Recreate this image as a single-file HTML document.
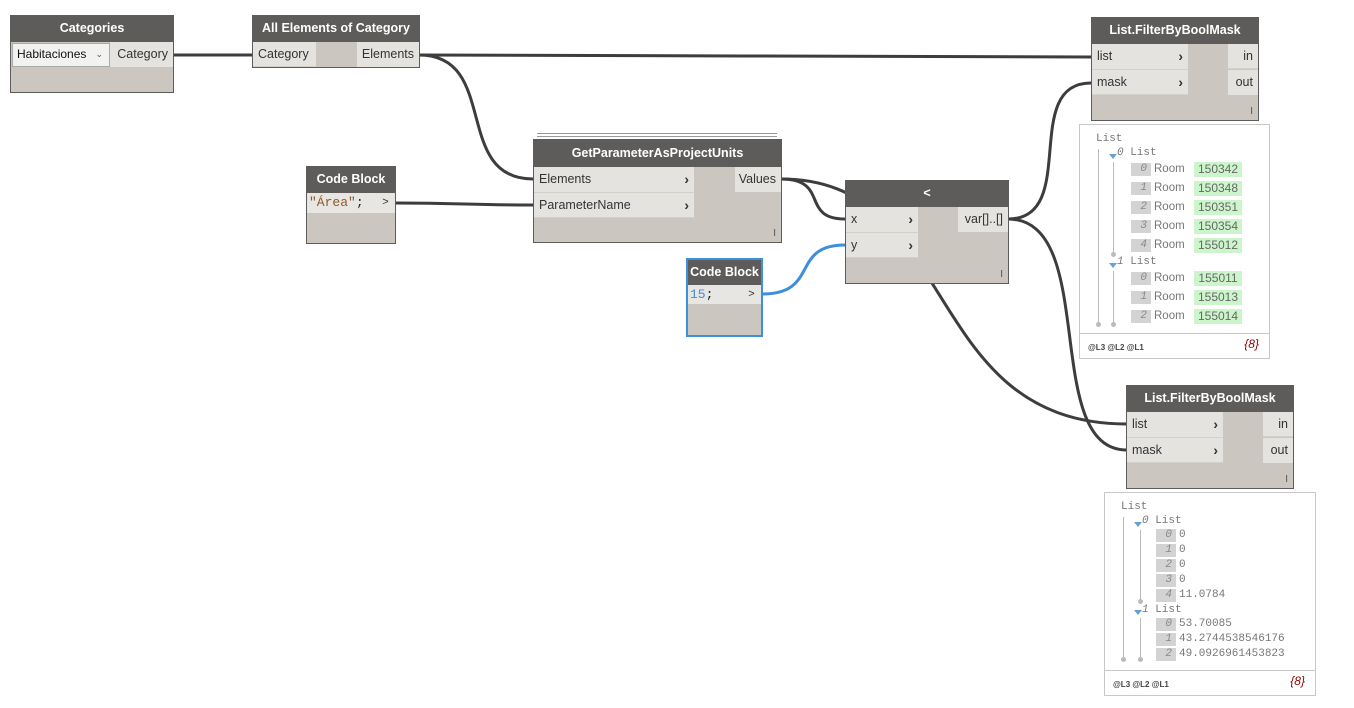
<!DOCTYPE html>
<html><head><meta charset="utf-8"><style>
body{margin:0;width:1354px;height:708px;background:#fff;position:relative;overflow:hidden;font-family:"Liberation Sans",sans-serif;}
.n{position:absolute;background:#cbc6bf;border:1px solid #5e5c5a;box-sizing:border-box;}
.h{position:absolute;left:0;right:0;top:0;height:26px;background:#5e5c5a;color:#fff;font-weight:bold;font-size:12.5px;text-align:center;line-height:25px;}
.p{position:absolute;background:#e5e3df;color:#333;font-size:12.5px;line-height:25px;padding-left:5px;box-sizing:border-box;border-bottom:1px solid #d4d0ca;}
.p b{position:absolute;right:5px;top:0;font-weight:bold;font-size:14px;}
.o{position:absolute;background:#e5e3df;color:#333;font-size:12.5px;line-height:25px;text-align:right;padding-right:5px;box-sizing:border-box;}
.c{position:absolute;font-size:10px;color:#555;}
.w{position:absolute;border:1px solid #c8c8c8;background:#fff;box-sizing:border-box;font-family:"Liberation Mono",monospace;font-size:11px;color:#777;}
.t{position:absolute;white-space:nowrap;line-height:13px;}
.r{font-family:"Liberation Sans",sans-serif;font-size:11.5px;}
.i{position:absolute;background:#d3d3d3;color:#888;font-style:italic;text-align:right;padding-right:4px;box-sizing:border-box;width:20px;height:13px;line-height:13px;}
.g{position:absolute;background:#ccf5cc;color:#666;font-family:"Liberation Sans",sans-serif;font-size:12px;width:48px;height:15px;line-height:15px;text-align:center;}
.vl{position:absolute;width:1px;background:#bbb;}
.dot{position:absolute;width:5px;height:5px;border-radius:50%;background:#bbb;}
.tri{position:absolute;width:0;height:0;border-left:4px solid transparent;border-right:4px solid transparent;border-top:5px solid #6a9fd4;}
.ft{position:absolute;left:8px;font-size:8px;font-weight:bold;color:#444;font-family:"Liberation Sans",sans-serif;}
.cnt{position:absolute;right:10px;font-style:italic;color:#8b0000;font-family:"Liberation Sans",sans-serif;font-size:12px;}
</style></head><body>
<svg width="1354" height="708" style="position:absolute;left:0;top:0" fill="none" stroke="#3d3d3d" stroke-width="3">
<path d="M173,55 L252,55"/>
<path d="M419,55 C700,55 800,57 1091,57"/>
<path d="M419,55 C500,55 452,179 533,179"/>
<path d="M395,203 C460,203 470,205 533,205"/>
<path d="M781,179 C830,179 800,219 845,219"/>
<path d="M781,179 C960,179 920,424 1127,424"/>
<path d="M1008,219 C1080,219 1020,83 1091,83"/>
<path d="M1008,219 C1100,219 1040,450 1127,450"/>
<path d="M762,294 C820,294 790,245 845,245" stroke="#3b8fdb"/>
</svg>

<div class="n" style="left:10px;top:15px;width:164px;height:78px">
<div class="h">Categories</div>
<div style="position:absolute;left:1px;top:27px;width:98px;height:24px;background:#f2f2f0;border:1px solid #aaa;box-sizing:border-box;font-size:12px;line-height:20px;padding-left:4px;color:#111">Habitaciones<span style="position:absolute;right:6px;font-size:9px;color:#555">⌄</span></div>
<div class="o" style="left:99px;top:26px;width:63px;height:25px">Category</div>
</div>

<div class="n" style="left:252px;top:15px;width:168px;height:53px">
<div class="h">All Elements of Category</div>
<div class="p" style="left:0;top:26px;width:63px;height:25px">Category</div>
<div class="o" style="left:104px;top:26px;width:62px;height:25px">Elements</div>
</div>

<div class="n" style="left:306px;top:166px;width:90px;height:78px">
<div class="h">Code Block</div>
<div style="position:absolute;left:0;top:26px;width:68px;height:20px;background:#e8e6e2;font-family:'Liberation Mono',monospace;font-size:13px;line-height:20px;padding-left:2px;color:#8b5a2b">"Área"<span style="color:#222">;</span></div>
<div style="position:absolute;left:69px;top:26px;width:19px;height:20px;background:#e8e6e2;font-size:11px;line-height:19px;text-align:center;color:#333">&gt;</div>
</div>

<div style="position:absolute;left:537px;top:133px;width:240px;height:2px;border-top:1px solid #999;border-bottom:1px solid #999"></div>
<div class="n" style="left:533px;top:139px;width:249px;height:104px">
<div class="h" style="height:27px;line-height:27px">GetParameterAsProjectUnits</div>
<div class="p" style="left:0;top:27px;width:160px;height:26px">Elements<b>›</b></div>
<div class="p" style="left:0;top:53px;width:160px;height:25px">ParameterName<b>›</b></div>
<div class="o" style="left:201px;top:27px;width:46px;height:25px">Values</div>
<div class="c" style="right:5px;bottom:3px">I</div>
</div>

<div class="n" style="left:845px;top:180px;width:164px;height:104px">
<div class="h" style="height:26px">&lt;</div>
<div class="p" style="left:0;top:26px;width:72px;height:26px">x<b>›</b></div>
<div class="p" style="left:0;top:52px;width:72px;height:25px">y<b>›</b></div>
<div class="o" style="left:112px;top:26px;width:50px;height:25px">var[]..[]</div>
<div class="c" style="right:5px;bottom:3px">I</div>
</div>

<div class="n" style="left:686px;top:258px;width:77px;height:79px;border:2px solid #3b8fdb">
<div class="h" style="height:25px;line-height:24px">Code Block</div>
<div style="position:absolute;left:0;top:25px;width:53px;height:19px;background:#e8e6e2;font-family:'Liberation Mono',monospace;font-size:13px;line-height:19px;padding-left:2px;color:#3b8fdb">15<span style="color:#222">;</span></div>
<div style="position:absolute;left:54px;top:25px;width:19px;height:19px;background:#e8e6e2;font-size:11px;line-height:18px;text-align:center;color:#333">&gt;</div>
</div>

<div class="n" style="left:1091px;top:17px;width:168px;height:104px">
<div class="h">List.FilterByBoolMask</div>
<div class="p" style="left:0;top:26px;width:96px;height:26px">list<b>›</b></div>
<div class="p" style="left:0;top:52px;width:96px;height:25px">mask<b>›</b></div>
<div class="o" style="left:136px;top:26px;width:30px;height:25px;border-bottom:1px solid #d4d0ca">in</div>
<div class="o" style="left:136px;top:52px;width:30px;height:25px">out</div>
<div class="c" style="right:5px;bottom:3px">I</div>
</div>

<div class="w" style="left:1079px;top:124px;width:191px;height:235px">
<div class="t" style="left:16px;top:8px">List</div>
<div class="vl" style="left:18px;top:24px;height:175px"></div>
<div class="dot" style="left:16px;top:197px"></div>
<div class="tri" style="left:29px;top:29px"></div>
<div class="t" style="left:37px;top:22px"><i>0</i> List</div>
<div class="vl" style="left:33px;top:37px;height:90px"></div>
<div class="dot" style="left:31px;top:127px"></div>
<div class="tri" style="left:29px;top:138px"></div>
<div class="t" style="left:37px;top:131px"><i>1</i> List</div>
<div class="vl" style="left:33px;top:146px;height:53px"></div>
<div class="dot" style="left:31px;top:197px"></div>
<div class="i" style="left:51px;top:38px">0</div><div class="t r" style="left:74px;top:38px">Room</div><div class="g" style="left:114px;top:37px">150342</div>
<div class="i" style="left:51px;top:57px">1</div><div class="t r" style="left:74px;top:57px">Room</div><div class="g" style="left:114px;top:56px">150348</div>
<div class="i" style="left:51px;top:76px">2</div><div class="t r" style="left:74px;top:76px">Room</div><div class="g" style="left:114px;top:75px">150351</div>
<div class="i" style="left:51px;top:95px">3</div><div class="t r" style="left:74px;top:95px">Room</div><div class="g" style="left:114px;top:94px">150354</div>
<div class="i" style="left:51px;top:114px">4</div><div class="t r" style="left:74px;top:114px">Room</div><div class="g" style="left:114px;top:113px">155012</div>
<div class="i" style="left:51px;top:147px">0</div><div class="t r" style="left:74px;top:147px">Room</div><div class="g" style="left:114px;top:146px">155011</div>
<div class="i" style="left:51px;top:166px">1</div><div class="t r" style="left:74px;top:166px">Room</div><div class="g" style="left:114px;top:165px">155013</div>
<div class="i" style="left:51px;top:185px">2</div><div class="t r" style="left:74px;top:185px">Room</div><div class="g" style="left:114px;top:184px">155014</div>
<div style="position:absolute;left:0;right:0;top:208px;border-top:1px solid #c8c8c8"></div>
<div class="ft" style="top:218px">@L3 @L2 @L1</div>
<div class="cnt" style="top:212px">{8}</div>
</div>

<div class="n" style="left:1126px;top:385px;width:168px;height:104px">
<div class="h">List.FilterByBoolMask</div>
<div class="p" style="left:0;top:26px;width:96px;height:26px">list<b>›</b></div>
<div class="p" style="left:0;top:52px;width:96px;height:25px">mask<b>›</b></div>
<div class="o" style="left:136px;top:26px;width:30px;height:25px;border-bottom:1px solid #d4d0ca">in</div>
<div class="o" style="left:136px;top:52px;width:30px;height:25px">out</div>
<div class="c" style="right:5px;bottom:3px">I</div>
</div>

<div class="w" style="left:1104px;top:492px;width:212px;height:204px">
<div class="t" style="left:16px;top:8px">List</div>
<div class="vl" style="left:18px;top:24px;height:142px"></div>
<div class="dot" style="left:16px;top:164px"></div>
<div class="tri" style="left:29px;top:29px"></div>
<div class="t" style="left:37px;top:22px"><i>0</i> List</div>
<div class="vl" style="left:35px;top:37px;height:70px"></div>
<div class="dot" style="left:33px;top:106px"></div>
<div class="tri" style="left:29px;top:117px"></div>
<div class="t" style="left:37px;top:111px"><i>1</i> List</div>
<div class="vl" style="left:35px;top:125px;height:40px"></div>
<div class="dot" style="left:33px;top:164px"></div>
<div class="i" style="left:51px;top:36px">0</div><div class="t" style="left:74px;top:36px">0</div>
<div class="i" style="left:51px;top:51px">1</div><div class="t" style="left:74px;top:51px">0</div>
<div class="i" style="left:51px;top:66px">2</div><div class="t" style="left:74px;top:66px">0</div>
<div class="i" style="left:51px;top:81px">3</div><div class="t" style="left:74px;top:81px">0</div>
<div class="i" style="left:51px;top:96px">4</div><div class="t" style="left:74px;top:96px">11.0784</div>
<div class="i" style="left:51px;top:125px">0</div><div class="t" style="left:74px;top:125px">53.70085</div>
<div class="i" style="left:51px;top:140px">1</div><div class="t" style="left:74px;top:140px">43.2744538546176</div>
<div class="i" style="left:51px;top:155px">2</div><div class="t" style="left:74px;top:155px">49.0926961453823</div>
<div style="position:absolute;left:0;right:0;top:177px;border-top:1px solid #c8c8c8"></div>
<div class="ft" style="top:187px">@L3 @L2 @L1</div>
<div class="cnt" style="top:181px">{8}</div>
</div>
</body></html>
